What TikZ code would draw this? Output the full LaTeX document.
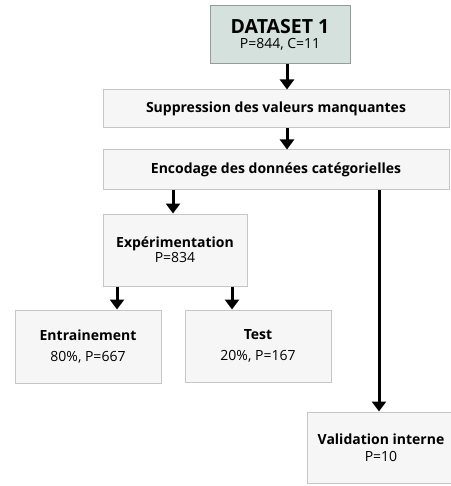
\documentclass[tikz,border=0pt]{standalone}
\usepackage{fontspec}
\setmainfont{Open Sans}
\usepackage{tikz}
\usetikzlibrary{arrows.meta, positioning, calc}
\definecolor{boxfill}{RGB}{246,246,246}
\definecolor{boxline}{RGB}{198,198,198}
\definecolor{headfill}{RGB}{213,225,221}
\definecolor{headline}{RGB}{150,156,153}
\tikzset{
  box/.style={rectangle, draw=boxline, fill=boxfill, line width=1pt,
    align=center, inner sep=0pt, font=\fontsize{14}{18}\selectfont},
  headbox/.style={box, draw=headline, fill=headfill},
  arrow/.style={-{Triangle[width=14pt,length=10pt]}, line width=3pt, color=black},
  line/.style={line width=3pt, color=black}
}

\begin{document}
\begin{tikzpicture}[x=1pt, y=-1pt]
  \useasboundingbox (0,0) rectangle (450,486);

  \node[headbox, minimum width=140pt, minimum height=58pt] (data) at (280,35)
    {{\fontsize{19.5}{22}\selectfont\bfseries DATASET 1}\\[-3pt] P=844, C=11};
  \node[box, minimum width=346pt, minimum height=38pt] (supp) at (276,109)
    {\bfseries Suppression des valeurs manquantes};
  \node[box, minimum width=346pt, minimum height=39pt] (enc) at (276,169.5)
    {\bfseries Encodage des données catégorielles};
  \node[box, minimum width=144pt, minimum height=72pt] (exp) at (175,250)
    {\bfseries Expérimentation\\[-3pt] P=834};
  \node[box, minimum width=146pt, minimum height=73pt] (entr) at (88,346.5)
    {\bfseries Entrainement\\[3pt] 80\%, P=667};
  \node[box, minimum width=146pt, minimum height=72pt] (test) at (258,346)
    {\bfseries Test\\[3pt] 20\%, P=167};
  \node[box, minimum width=148pt, minimum height=71pt] (valid) at (381,447.5)
    {\bfseries Validation interne\\[-1pt] P=10};

  \draw[arrow] ([xshift=7pt]data.south) -- ([xshift=7pt]data.south |- supp.north);
  \draw[arrow] ([xshift=11pt]supp.south) -- ([xshift=11pt]supp.south |- enc.north);
  \draw[arrow] ([xshift=-2pt]exp.north |- enc.south) -- ([xshift=-2pt]exp.north);
  \draw[arrow] ([xshift=-58pt]exp.south) -- ([xshift=-58pt]exp.south |- entr.north);
  \draw[arrow] ([xshift=57pt]exp.south) -- ([xshift=57pt]exp.south |- test.north);
  \draw[arrow] ([xshift=-2pt]valid.north |- enc.south) -- ([xshift=-2pt]valid.north);
\end{tikzpicture}
\end{document}
